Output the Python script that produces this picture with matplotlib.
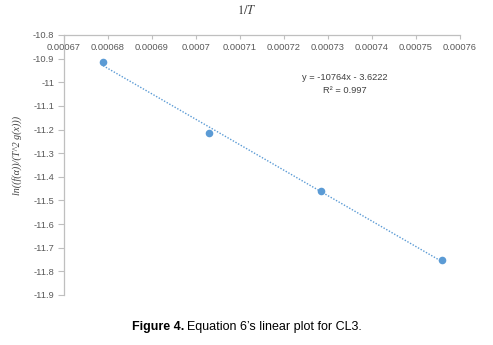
import matplotlib
matplotlib.use("Agg")
import matplotlib.pyplot as plt
import numpy as np

# Data
inv_T = [0.0006789, 0.0007029, 0.0007284, 0.0007559]
ln_vals = [-10.913, -11.215, -11.461, -11.750]
slope = -10764
intercept = -3.6222
r2_text = "R\u00b2 = 0.997"
eq_text = "y = -10764x - 3.6222"

x_ticks = [0.00067, 0.00068, 0.00069, 0.0007, 0.00071, 0.00072, 0.00073, 0.00074, 0.00075, 0.00076]
x_tick_labels = ["0.00067", "0.00068", "0.00069", "0.0007", "0.00071", "0.00072",
                 "0.00073", "0.00074", "0.00075", "0.00076"]
y_ticks = [-10.8, -10.9, -11.0, -11.1, -11.2, -11.3, -11.4, -11.5, -11.6, -11.7, -11.8, -11.9]
y_tick_labels = ["-10.8", "-10.9", "-11", "-11.1", "-11.2", "-11.3", "-11.4", "-11.5",
                 "-11.6", "-11.7", "-11.8", "-11.9"]

plt.rcParams["mathtext.fontset"] = "stix"

W, H = 493, 345
fig = plt.figure(figsize=(W / 100, H / 100), dpi=100)
ax = fig.add_axes([64 / W, 1 - 295 / H, (460 - 64) / W, (295 - 35) / H])

blue = "#5B9BD5"
grey = "#595959"
spine_c = "#BFBFBF"

xs = np.array([inv_T[0], inv_T[-1]])
ax.plot(xs, slope * xs + intercept, linestyle=(0, (1, 1.2)), color=blue, linewidth=1.0, zorder=2)
ax.scatter(inv_T, ln_vals, s=30, color=blue, zorder=3, linewidths=0)

ax.set_xlim(0.00067, 0.00076)
ax.set_ylim(-11.9, -10.8)
ax.set_xticks(x_ticks)
ax.set_xticklabels(x_tick_labels)
ax.set_yticks(y_ticks)
ax.set_yticklabels(y_tick_labels)

for s in ["right", "top"]:
    ax.spines[s].set_visible(False)
ax.spines["bottom"].set_position(("data", -10.8))
ax.spines["bottom"].set_color(spine_c)
ax.spines["left"].set_color(spine_c)
ax.spines["bottom"].set_linewidth(0.9)
ax.spines["left"].set_linewidth(0.9)

ax.tick_params(axis="x", direction="out", length=3, color=spine_c, labelcolor=grey, pad=3)
ax.tick_params(axis="y", direction="out", length=4, color=spine_c, labelcolor=grey, pad=3)
for lab in ax.get_xticklabels() + ax.get_yticklabels():
    lab.set_fontfamily(["Liberation Sans", "DejaVu Sans"])
    lab.set_fontsize(6.7)

fig.text(345 / W, 1 - 78 / H, eq_text, ha="center", va="center",
         fontsize=6.7, color="#404040", family=["Liberation Sans", "DejaVu Sans"])
fig.text(345 / W, 1 - 90 / H, r2_text, ha="center", va="center",
         fontsize=6.7, color="#404040", family=["Liberation Sans", "DejaVu Sans"])

fig.text(247 / W, 1 - 11 / H, r"$1/T$", ha="center", va="center", fontsize=9, color="#404040")

fig.text(17 / W, 1 - 155 / H, "ln((f(\u03b1))/(T^2 g(x)))", rotation=90, ha="center", va="center",
         fontsize=7.2, color="#404040", family=["Liberation Serif", "DejaVu Serif"], style="italic")

cap_font = ["Liberation Sans", "DejaVu Sans"]
fig.text(184 / W, 1 - 327 / H, "Figure 4.", ha="right", va="center", fontsize=9,
         fontweight="bold", color="black", family=cap_font)
fig.text(187 / W, 1 - 327 / H, "Equation 6\u2019s linear plot for CL3.", ha="left", va="center",
         fontsize=9, color="black", family=cap_font)

fig.savefig("out.png", dpi=100)
